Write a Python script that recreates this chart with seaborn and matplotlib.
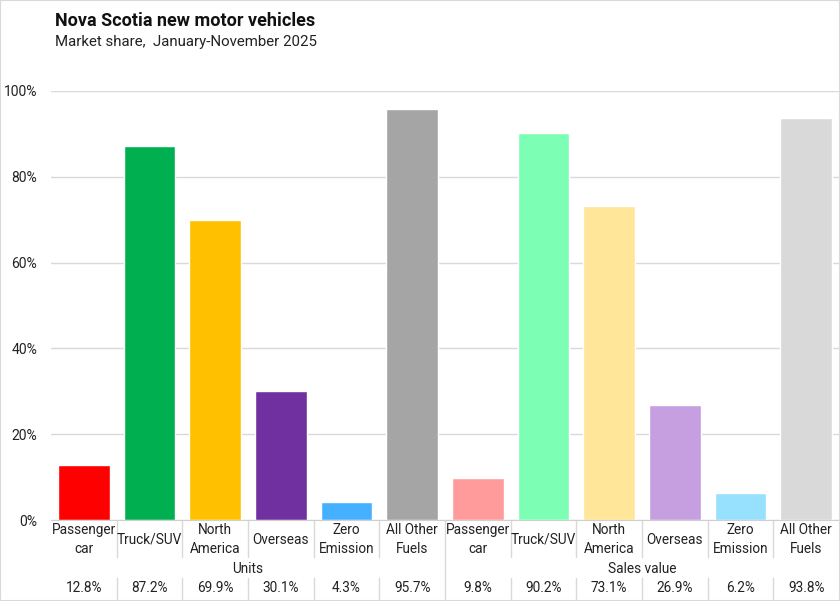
import pandas as pd
import matplotlib.pyplot as plt
import matplotlib.transforms as mtransforms
import seaborn as sns

# chart data
categories = ['Passenger\ncar', 'Truck/SUV', 'North\nAmerica', 'Overseas', 'Zero\nEmission', 'All Other\nFuels']
groups = ['Units', 'Sales value']
units_share = [12.8, 87.2, 69.9, 30.1, 4.3, 95.7]
sales_share = [9.8, 90.2, 73.1, 26.9, 6.2, 93.8]
colors = ['#FF0000', '#00B050', '#FFC000', '#7030A0', '#45B0FF', '#A5A5A5',
          '#FF9B9B', '#7CFFB5', '#FFE699', '#C59FE0', '#97E1FF', '#D9D9D9']

sns.set_style('white')
plt.rcParams['font.family'] = ['Roboto', 'DejaVu Sans']

df = pd.DataFrame({
    'group': [groups[0]] * 6 + [groups[1]] * 6,
    'category': categories * 2,
    'share': units_share + sales_share,
})
df['key'] = df['group'] + '|' + df['category']

W, H = 840, 601
fig = plt.figure(figsize=(W / 100, H / 100), dpi=100)
# plot area: x 51..839 px, y 91..520 px
ax = fig.add_axes([51 / W, (H - 520) / H, 788 / W, 429 / H])

sns.barplot(data=df, x='key', y='share', hue='key', palette=colors,
            width=0.79, legend=False, ax=ax, saturation=1)

ax.set_ylim(0, 100)
ax.set_xlim(-0.5, 11.5)
ax.set_yticks(range(0, 101, 20))
ax.set_yticklabels([f'{t}%' for t in range(0, 101, 20)], fontsize=10, color='#222222')
ax.tick_params(axis='y', length=0, pad=10)
ax.set_xticks([])
ax.set_xlabel('')
ax.set_ylabel('')
ax.yaxis.grid(True, color='#D9D9D9', linewidth=1)
ax.set_axisbelow(True)
for s in ['top', 'right', 'left']:
    ax.spines[s].set_visible(False)
ax.spines['bottom'].set_color('#D0D0D0')

# category table under the axis
trans = mtransforms.blended_transform_factory(ax.transData, ax.transAxes)


def ypx(py):
    return (520 - py) / 429


line_kw = dict(color='#D9D9D9', linewidth=1, transform=trans, clip_on=False)
for i in range(11):
    if i == 5:
        ax.plot([i + 0.5, i + 0.5], [0, ypx(601)], **line_kw)
    else:
        ax.plot([i + 0.5, i + 0.5], [0, ypx(557)], **line_kw)
        ax.plot([i + 0.5, i + 0.5], [ypx(578), ypx(601)], **line_kw)

for i, row in df.iterrows():
    ax.text(i, ypx(539.5), row['category'], transform=trans, ha='center', va='center',
            fontsize=9.8, color='#222222', linespacing=1.4)
    ax.text(i, ypx(588), f"{row['share']:.1f}%", transform=trans, ha='center',
            va='center', fontsize=9.8, color='#222222')

for g, name in enumerate(groups):
    ax.text(g * 6 + 2.5, ypx(569), name, transform=trans, ha='center', va='center',
            fontsize=9.8, color='#222222')

fig.text(55 / W, 1 - 21 / H, 'Nova Scotia new motor vehicles', fontsize=13,
         fontweight='bold', ha='left', va='center', color='#111111')
fig.text(55 / W, 1 - 42 / H, 'Market share,  January-November 2025', fontsize=10.8,
         ha='left', va='center', color='#222222')

# chart border
fig.patches.append(plt.Rectangle((0, 0), 1, 1, transform=fig.transFigure, fill=False,
                                 edgecolor='#D9D9D9', linewidth=1.5))

fig.savefig('out.png', dpi=100)
